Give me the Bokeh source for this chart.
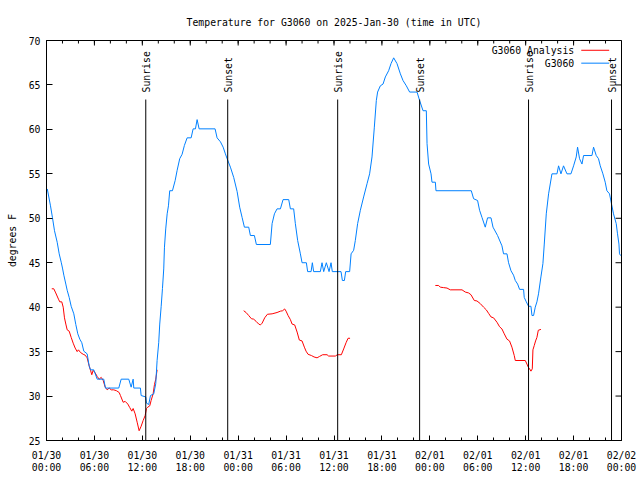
import math
from bokeh.plotting import figure
from bokeh.models import Range1d, FixedTicker
from bokeh.core.properties import value
from bokeh.embed import file_html
from bokeh.resources import INLINE

NAN = float("nan")

TITLE = "Temperature for G3060 on 2025-Jan-30 (time in UTC)"
Y_LABEL = "degrees F"

# time axis: hours since 2025-01-30 00:00 UTC
obs_hours = [0.1, 0.5, 0.75, 1.0, 1.34, 1.59, 1.84, 2.0, 2.17, 2.42, 2.59, 2.84, 3.09, 3.42, 3.67,
             3.92, 4.17, 4.42, 4.67, 5.09, 5.34, 5.51, 5.92, 6.35, 7.17, 7.38, 9.05, 9.35, 10.3,
             10.6, 10.85, 10.93, 11.76, 11.85, 12.43, 12.52, 12.8, 13.02, 13.43, 13.68, 13.85,
             14.05, 14.18, 14.36, 14.52, 14.68, 14.77, 14.93, 15.11, 15.27, 15.43, 15.77, 16.11,
             16.36, 16.68, 16.98, 17.27, 17.61, 18.11, 18.36, 18.65, 18.86, 19.11, 21.11, 21.36,
             21.78, 22.12, 22.4, 22.62, 23.03, 23.44, 23.87, 24.19, 24.49, 24.78, 25.32, 25.53,
             26.03, 26.28, 28.03, 28.25, 28.54, 28.87, 29.29, 29.62, 30.33, 30.54, 30.95, 31.16,
             31.45, 31.79, 32.0, 32.54, 32.7, 33.13, 33.29, 33.45, 34.29, 34.5, 34.71, 35.04,
             35.38, 35.63, 35.79, 36.88, 37.05, 37.3, 37.46, 37.96, 38.14, 38.46, 38.67, 38.96,
             39.3, 39.71, 40.14, 40.46, 40.76, 41.05, 41.3, 41.46, 41.8, 42.14, 42.43, 42.84,
             43.14, 43.47, 43.89, 44.31, 44.64, 45.06, 45.47, 46.4, 46.72, 47.15, 47.56, 47.65,
             47.85, 48.15, 48.27, 48.69, 48.77, 53.19, 53.48, 53.98, 54.23, 54.53, 54.94, 55.23,
             55.66, 55.91, 56.48, 57.03, 57.23, 57.66, 57.86, 58.16, 58.48, 58.7, 58.99, 59.24,
             59.74, 59.82, 60.08, 60.36, 60.66, 60.79, 60.99, 61.2, 61.41, 61.61, 61.91, 62.16,
             62.33, 62.58, 62.87, 63.29, 63.92, 64.12, 64.42, 64.74, 65.17, 65.67, 66.0, 66.33,
             66.5, 66.75, 67.05, 67.25, 68.3, 68.5, 68.84, 69.12, 69.34, 69.67, 69.96, 70.17,
             70.5, 70.75, 71.0, 71.34, 71.5, 71.68, 71.75, 71.9]
obs_temp = [53.3, 51.4, 50.05, 48.6, 47.3, 46.0, 45.06, 44.4, 43.6, 42.6, 41.9, 41.1, 40.1, 39.25, 38.05,
            37.0, 36.4, 36.0, 35.05, 34.75, 33.4, 32.95, 32.95, 31.9, 31.9, 30.9, 30.9, 31.9, 31.9,
            31.0, 31.9, 30.9, 30.9, 30.06, 29.9, 29.2, 29.05, 30.06, 30.25, 31.4, 34.0,
            36.0, 38.1, 40.1, 42.1, 44.3, 46.75, 48.8, 50.5, 51.4, 53.1, 53.1, 54.25,
            55.4, 56.7, 57.2, 58.2, 59.05, 59.05, 60.06, 60.06, 61.1, 60.06, 60.06, 59.05,
            58.6, 58.0, 57.25, 56.7, 55.75, 54.6, 53.0, 51.25, 50.1, 49.0, 49.0, 48.06,
            48.06, 47.05, 47.05, 49.4, 50.5, 51.06, 51.06, 52.1, 52.1, 51.06, 51.06, 49.4,
            47.5, 46.0, 45.0, 45.0, 44.0, 44.0, 45.0, 44.0, 44.0, 45.0, 44.0, 45.0,
            44.0, 45.0, 44.0, 44.0, 43.0, 43.0, 44.0, 44.0, 46.0, 46.4, 47.5, 49.4,
            50.9, 52.4, 53.9, 55.0, 56.9, 60.25, 63.25, 64.2, 64.9, 65.1, 65.9, 66.6,
            67.4, 68.05, 67.4, 66.25, 65.5, 64.9, 64.2, 64.2, 63.25, 62.1, 62.1, 58.4,
            56.1, 55.0, 54.06, 54.06, 53.1, 53.1, 52.2, 52.0, 50.9, 50.1, 49.0, 50.05,
            50.05, 49.0, 48.06, 46.9, 46.0, 46.0, 45.0, 44.1, 43.6, 43.0, 42.6, 42.0,
            42.0, 41.1, 40.6, 40.1, 40.1, 39.06, 39.06, 40.0, 40.6, 41.5, 43.4, 44.9,
            47.1, 50.5, 52.75, 55.0, 55.0, 55.9, 55.0, 55.9, 55.0, 55.0, 55.9, 56.9,
            58.0, 56.7, 56.1, 57.06, 57.06, 58.0, 57.06, 56.7, 55.9, 55.0, 54.06, 53.1,
            52.75, 51.6, 50.5, 49.4, 48.25, 47.1, 46.0, 45.8]

# analysis series (NaN separates the three runs)
ana_hours = [0.66, 0.91, 1.16, 1.5, 1.66, 1.91, 2.09, 2.25, 2.42, 2.59, 2.84, 3.09, 3.34, 3.59, 3.84,
             4.0, 4.26, 4.59, 4.84, 5.09, 5.34, 5.51, 5.67, 5.84, 6.1, 6.35, 6.6, 6.85, 7.1, 7.35,
             7.6, 7.85, 8.1, 8.42, 8.76, 9.1, 9.26, 9.6, 9.85, 10.18, 10.43, 10.68, 10.85, 11.1,
             11.35, 11.6, 11.85, 12.1, 12.35, 12.52, 12.68, 12.93, 13.1, 13.35, 13.52, 13.68, 13.85,
             NAN,
             24.69, 24.99, 25.32, 25.66, 25.94, 26.25, 26.57, 26.78, 27.0, 27.32, 27.66, 28.25,
             28.87, 29.29, 29.57, 29.82, 30.0, 30.25, 30.54, 30.75, 31.08, 31.38, 31.66, 32.0,
             32.29, 32.5, 32.75, 33.17, 33.5, 33.88, 34.17, 34.58, 35.13, 35.33, 36.17, 36.42,
             36.92, 37.21, 37.51, 37.76, 38.01,
             NAN,
             48.69, 49.1, 49.31, 49.72, 50.15, 50.56, 52.03, 52.44, 52.85, 53.15, 53.57, 53.9,
             54.32, 54.73, 55.07, 55.36, 55.66, 55.98, 56.41, 56.73, 57.03, 57.32, 57.66, 57.98,
             58.28, 58.57, 58.7, 59.95, 60.16, 60.33, 60.49, 60.66, 60.83, 60.91, 61.08, 61.24,
             61.41, 61.58, 61.91]
ana_temp = [42.07, 42.07, 41.6, 40.9, 40.6, 40.6, 40.0, 38.8, 38.1, 37.45, 37.3, 36.6, 35.95, 35.4, 35.0,
            35.2, 34.9, 34.7, 34.6, 34.3, 33.4, 32.9, 32.4, 32.9, 32.6, 32.2, 31.9, 32.1, 31.75, 31.0,
            30.7, 30.9, 30.7, 30.7, 30.6, 30.4, 30.06, 29.3, 29.4, 29.1, 28.7, 28.3, 28.6, 28.0,
            27.06, 26.1, 26.6, 27.25, 27.8, 28.6, 28.75, 28.9, 29.5, 30.25, 31.3, 31.9, 32.95,
            NAN,
            39.6, 39.4, 39.06, 38.7, 38.65, 38.4, 38.1, 38.0, 38.2, 38.8, 39.2, 39.25,
            39.4, 39.55, 39.6, 39.8, 39.55, 39.06, 38.6, 38.1, 38.0, 37.2, 36.3, 36.2,
            35.5, 35.05, 34.7, 34.56, 34.4, 34.3, 34.45, 34.65, 34.65, 34.5, 34.5, 34.65,
            34.65, 35.3, 36.0, 36.5, 36.5,
            NAN,
            42.44, 42.44, 42.25, 42.2, 42.15, 41.95, 41.95, 41.7, 41.6, 41.4, 40.75, 40.7,
            40.4, 40.0, 39.7, 39.3, 38.9, 38.8, 38.3, 37.8, 37.55, 37.0, 36.4, 36.2,
            35.5, 34.56, 34.0, 34.0, 33.6, 33.25, 33.06, 32.8, 33.06, 35.2, 35.7, 36.2,
            36.6, 37.4, 37.5]

sun_hours = [12.43, 22.69, 36.46, 46.72, 60.36, 70.75]
sun_labels = ["Sunrise", "Sunset", "Sunrise", "Sunset", "Sunrise", "Sunset"]

tick_hours = [0, 6, 12, 18, 24, 30, 36, 42, 48, 54, 60, 66, 72]
tick_labels = ["01/30\n00:00", "01/30\n06:00", "01/30\n12:00", "01/30\n18:00",
               "01/31\n00:00", "01/31\n06:00", "01/31\n12:00", "01/31\n18:00",
               "02/01\n00:00", "02/01\n06:00", "02/01\n12:00", "02/01\n18:00",
               "02/02\n00:00"]
minor_hours = list(range(0, 73, 2))
y_ticks = [25, 30, 35, 40, 45, 50, 55, 60, 65, 70]

series_names = ["G3060 Analysis", "G3060"]
series_colors = ["#ff0000", "#0080ff"]

# ---- styling / layout constants ----
FONT = "DejaVu Sans Mono"
FS = "9.8px"
X0, X1, Y0, Y1 = 0, 72, 25, 70
FRAME_W, FRAME_H = 575, 400
PX_X = (X1 - X0) / FRAME_W      # data units per pixel
PX_Y = (Y1 - Y0) / FRAME_H
MAJOR_LEN, MINOR_LEN, Y_TICK_LEN = 5, 3, 6
SUN_LINE_TOP = 63.36
SUN_TEXT_Y = 64.15
LEG_TEXT_X = 66.08
LEG_LINE_X0, LEG_LINE_X1 = 66.96, 70.46
LEG_Y = [68.9, 67.45]

p = figure(width=640, height=480, output_backend="svg", toolbar_location=None,
           x_range=Range1d(X0, X1), y_range=Range1d(Y0, Y1),
           min_border_left=46, min_border_right=640 - 46 - FRAME_W,
           min_border_top=40, min_border_bottom=480 - 40 - FRAME_H)
p.background_fill_color = "white"
p.border_fill_color = "white"
p.xgrid.visible = False
p.ygrid.visible = False
p.outline_line_color = "black"
p.outline_line_alpha = 1.0
p.outline_line_width = 1

p.title.text = TITLE
p.title.text_font = FONT
p.title.text_font_size = FS
p.title.text_font_style = "normal"
p.title.text_color = "black"
p.title.align = "center"
p.title.standoff = 26

xa = p.xaxis[0]
xa.ticker = FixedTicker(ticks=tick_hours, minor_ticks=minor_hours)
xa.major_label_overrides = {float(h): lbl for h, lbl in zip(tick_hours, tick_labels)}
xa.major_tick_in = MAJOR_LEN
xa.major_tick_out = 0
xa.minor_tick_in = MINOR_LEN
xa.minor_tick_out = 0
xa.major_label_standoff = 9
xa.major_label_text_font = FONT
xa.major_label_text_font_size = FS
xa.major_label_text_color = "black"
xa.major_label_text_line_height = 1.15
xa.axis_line_color = "black"
xa.major_tick_line_color = "black"
xa.minor_tick_line_color = "black"

ya = p.yaxis[0]
ya.ticker = FixedTicker(ticks=y_ticks, minor_ticks=[])
ya.major_tick_in = Y_TICK_LEN
ya.major_tick_out = 0
ya.minor_tick_in = 0
ya.minor_tick_out = 0
ya.major_label_standoff = 6
ya.major_label_text_font = FONT
ya.major_label_text_font_size = FS
ya.major_label_text_color = "black"
ya.axis_label = Y_LABEL
ya.axis_label_text_font = FONT
ya.axis_label_text_font_size = FS
ya.axis_label_text_font_style = "normal"
ya.axis_label_text_color = "black"
ya.axis_label_standoff = 8
ya.axis_line_color = "black"
ya.major_tick_line_color = "black"

# mirrored ticks on top and right edges (gnuplot style)
p.segment(x0=tick_hours, x1=tick_hours, y0=[Y1] * len(tick_hours),
          y1=[Y1 - MAJOR_LEN * PX_Y] * len(tick_hours), line_color="black", line_width=1)
p.segment(x0=minor_hours, x1=minor_hours, y0=[Y1] * len(minor_hours),
          y1=[Y1 - MINOR_LEN * PX_Y] * len(minor_hours), line_color="black", line_width=1)
p.segment(x0=[X1] * len(y_ticks), x1=[X1 - Y_TICK_LEN * PX_X] * len(y_ticks),
          y0=y_ticks, y1=y_ticks, line_color="black", line_width=1)

# data lines
p.line(ana_hours, ana_temp, line_color=series_colors[0], line_width=1)
p.line(obs_hours, obs_temp, line_color=series_colors[1], line_width=1)

# sunrise / sunset markers
n = len(sun_hours)
p.segment(x0=sun_hours, x1=sun_hours, y0=[Y0] * n, y1=[SUN_LINE_TOP] * n,
          line_color="black", line_width=1)
p.text(x=sun_hours, y=[SUN_TEXT_Y] * n, text=sun_labels, angle=math.pi / 2,
       text_align="left", text_baseline="middle", x_offset=1,
       text_font=value(FONT), text_font_size=value(FS), text_color="black")

# gnuplot-style key (text then sample line)
p.text(x=[LEG_TEXT_X] * 2, y=LEG_Y, text=series_names, text_align="right",
       text_baseline="middle", text_font=value(FONT), text_font_size=value(FS),
       text_color="black")
p.segment(x0=[LEG_LINE_X0] * 2, x1=[LEG_LINE_X1] * 2, y0=LEG_Y, y1=LEG_Y,
          line_color=series_colors, line_width=1)

open("out.html", "w").write(file_html(p, INLINE))
